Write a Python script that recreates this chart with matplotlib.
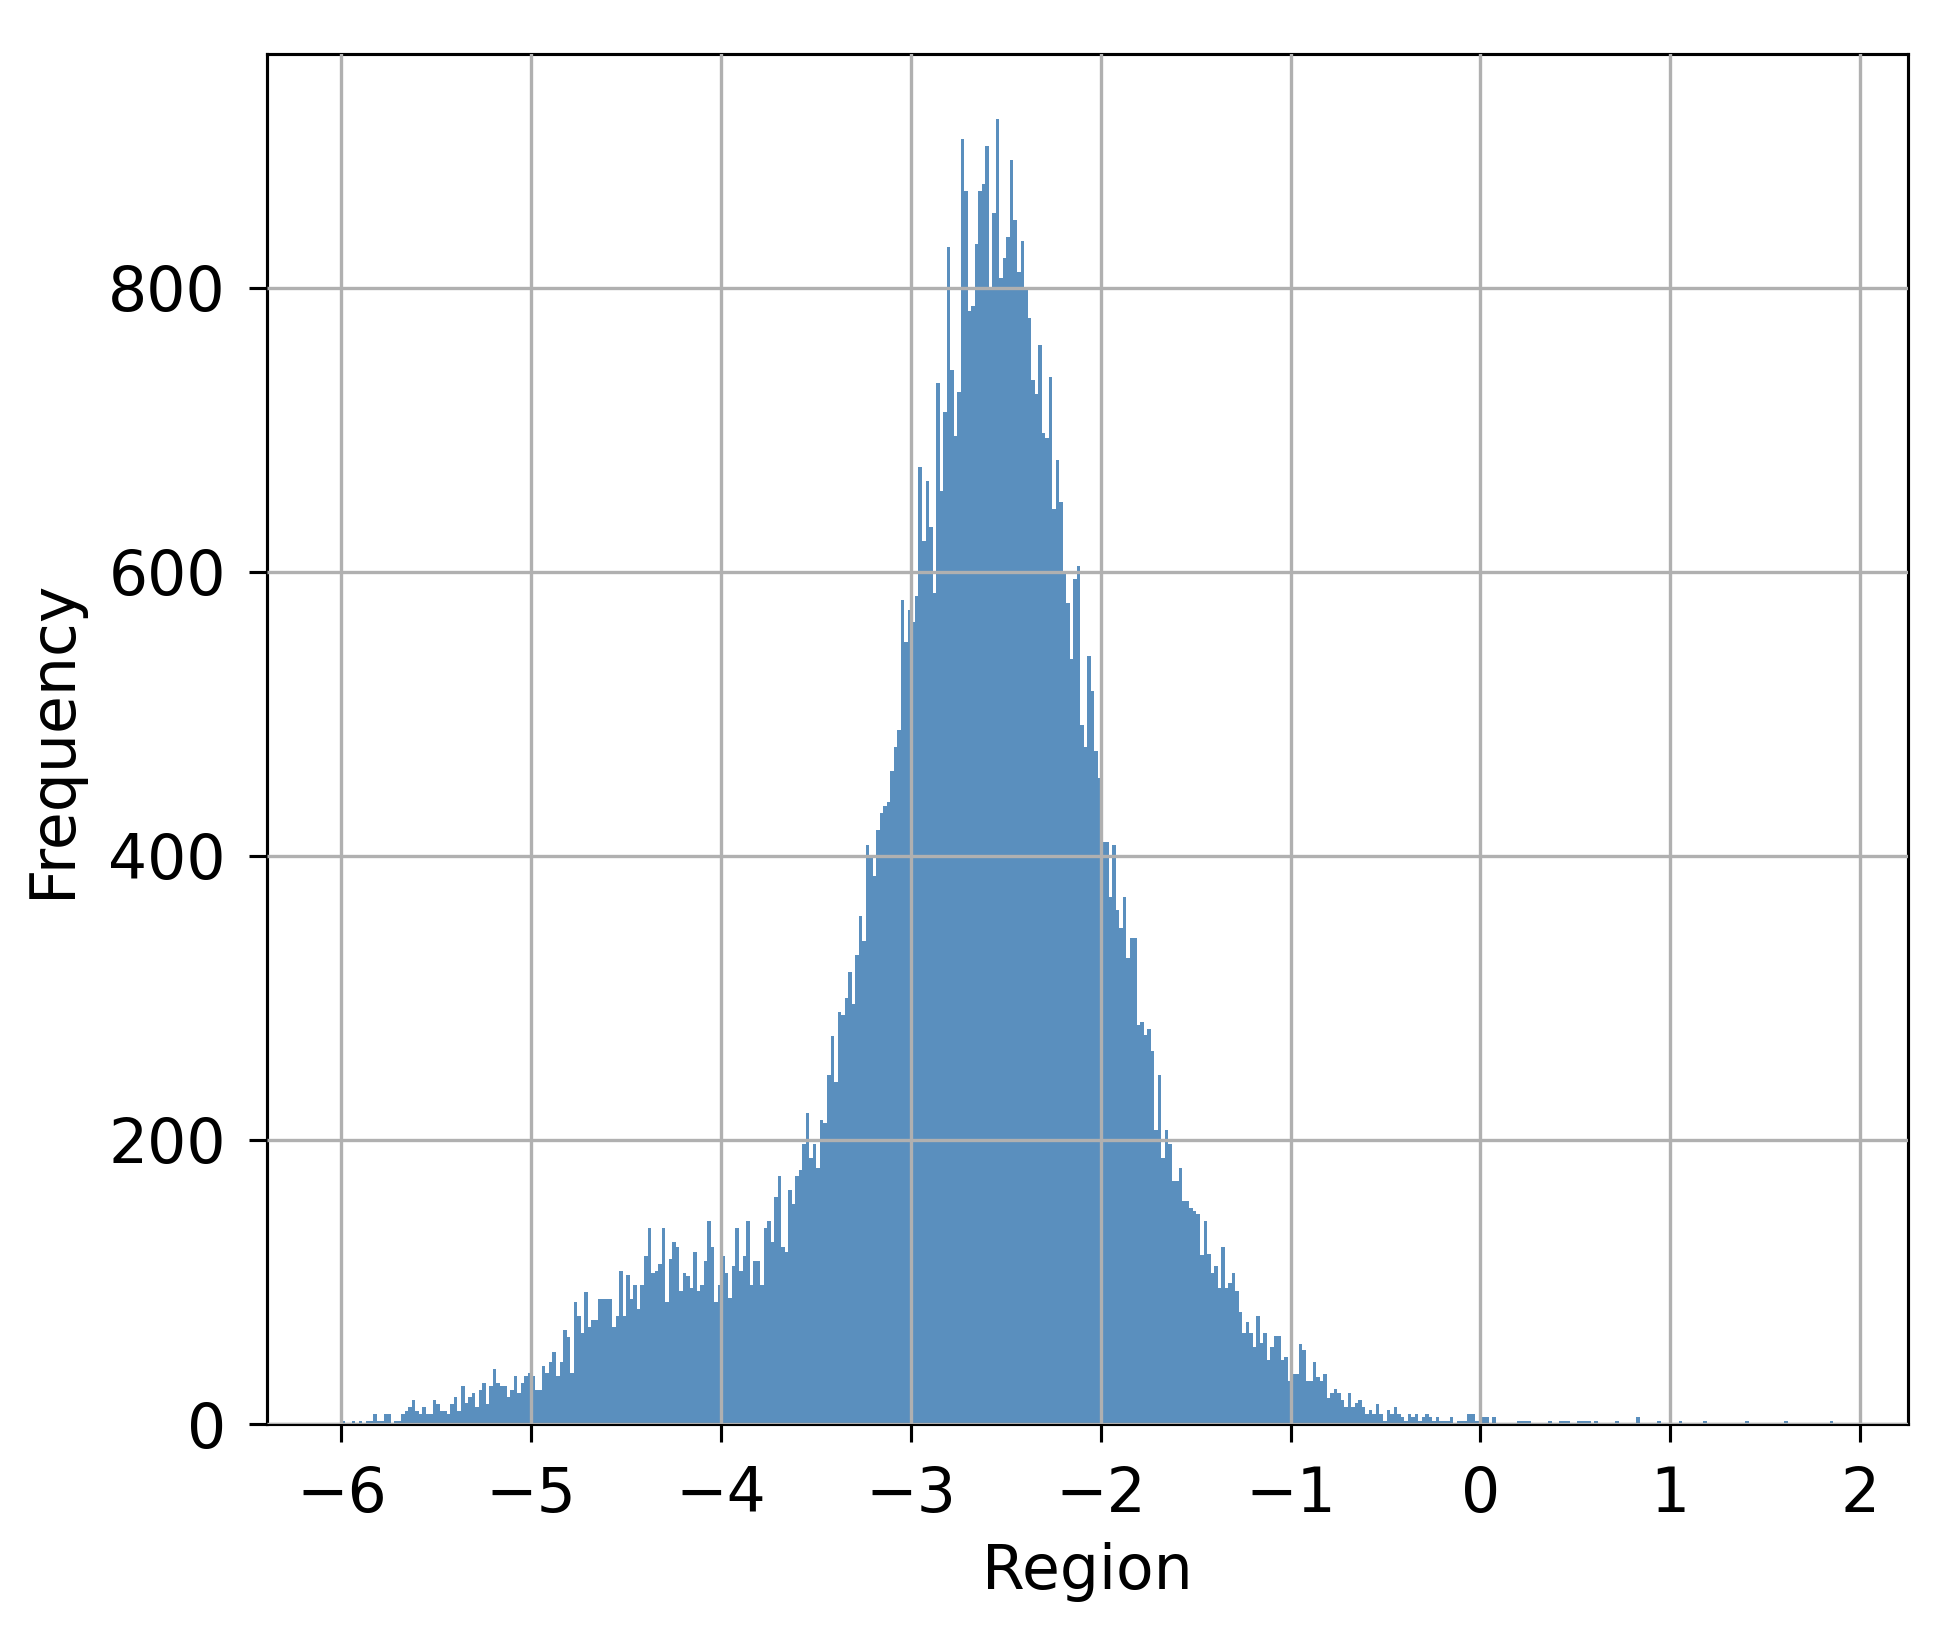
import matplotlib
matplotlib.use("Agg")
import matplotlib.pyplot as plt
from matplotlib.ticker import MultipleLocator
import numpy as np

# histogram layout: 424 equal bins between the data min and max
bin_lo, bin_hi, n_bins = -6.0, 1.86, 424

# bin counts left to right
counts_left_tail = [2, 1, 0, 2, 0, 2, 0, 2, 2, 7,
                    2, 2, 7, 7, 0, 2, 2, 7, 9, 12,
                    17, 9, 7, 12, 7, 7, 17, 14, 9, 9,
                    7, 14, 19, 9, 27, 15, 19, 22, 12, 24,
                    29, 14, 27, 39, 29, 27, 27, 19, 24, 34,
                    22, 29, 34, 36, 34, 24, 24, 41, 36, 44,
                    51, 34, 44, 66, 61, 36, 86, 76, 64, 93,
                    68, 73, 73, 88, 88, 88, 88, 68, 76, 108,
                    76, 105, 88]
counts_shoulder = [98, 81, 98, 118, 138, 106, 108, 113, 138, 86,
                   116, 128, 125, 94, 106, 104, 96, 121, 94, 98,
                   115, 143, 125, 86, 98, 118, 106, 89, 111, 138,
                   108, 118, 143, 98, 115, 115, 98, 138, 143, 128,
                   160, 175, 125, 121, 165, 155, 175, 179, 197, 219,
                   187, 197, 180, 214, 212, 246, 273, 241, 290, 288]
counts_rise = [300, 318, 296, 330, 358, 340, 408, 400, 386, 418, 430, 435, 438]
counts_peak = [460, 477, 489, 580, 551, 573, 565, 583, 674, 622,
               664, 632, 585, 733, 657, 713, 829, 742, 696, 727,
               905, 868, 784, 787, 831, 868, 873, 900, 801, 853,
               919, 807, 821, 836, 890, 848, 811, 833, 800, 779,
               735, 725, 760, 698, 694, 737, 644, 679, 649, 601,
               578, 539, 595, 604, 492, 477, 541, 516, 474]
counts_fall = [455, 410, 410, 371, 408, 362, 349, 371, 328, 342,
               342, 281, 283, 274, 278, 263, 207, 246, 187, 207,
               197, 171, 171, 180, 157, 157, 152, 150, 148, 119,
               143, 120, 106, 111, 96, 125, 96, 99, 106, 94,
               79, 64, 72, 64, 54, 76, 57, 64, 45, 54,
               62, 62, 45, 47, 30, 35, 35, 56, 52, 30,
               30, 44, 33, 30, 35, 18, 22, 25, 22]
counts_right_tail = [17, 12, 22, 12, 15, 17, 12, 7, 10, 7,
                     14, 7, 2, 10, 7, 12, 7, 5, 2, 7,
                     5, 7, 2, 5, 7, 5, 2, 5, 2, 2,
                     2, 5, 0, 2, 2, 2, 7, 7, 2, 2,
                     5, 5, 0, 5,
                     0, 0, 0, 0, 0, 0, 2, 2, 2, 2,
                     0, 0, 0, 0, 0, 2, 0, 0, 2, 2,
                     2, 0, 0, 2, 2, 2, 2, 0, 2, 0,
                     0, 0, 0, 0, 2, 0, 0, 0, 0, 0,
                     5, 0, 0, 0, 0, 0, 2, 0, 0, 0,
                     0, 0, 2, 0, 0, 0, 0, 0, 0, 2,
                     0, 0, 0, 0, 0, 0, 0, 0, 0, 0,
                     0, 2, 0, 0, 0, 0, 0, 0, 0, 0,
                     0, 0, 2, 0, 0, 0, 0, 0, 0, 0,
                     0, 0, 0, 0, 0, 2]

counts = np.array(counts_left_tail + counts_shoulder + counts_rise
                  + counts_peak + counts_fall + counts_right_tail, dtype=float)
edges = np.linspace(bin_lo, bin_hi, n_bins + 1)
centers = (edges[:-1] + edges[1:]) / 2

fig = plt.figure(figsize=(1947 / 300, 1628 / 300), dpi=300)
ax = fig.add_axes([0.137, 0.1253, 0.843, 0.8417])

ax.hist(centers, bins=edges, weights=counts, color='#5a8fbe', linewidth=0)

ax.xaxis.set_major_locator(MultipleLocator(1))
ax.grid(True, color='#b0b0b0', linewidth=0.8)
ax.set_axisbelow(False)
for sp in ax.spines.values():
    sp.set_linewidth(0.75)
ax.tick_params(labelsize=14.8, length=4.3, width=0.75, pad=5.5)
ax.set_xlabel("Region", fontsize=14.8, labelpad=4)
ax.set_ylabel("Frequency", fontsize=14.8, labelpad=6)

fig.savefig("out.png", dpi=300)
